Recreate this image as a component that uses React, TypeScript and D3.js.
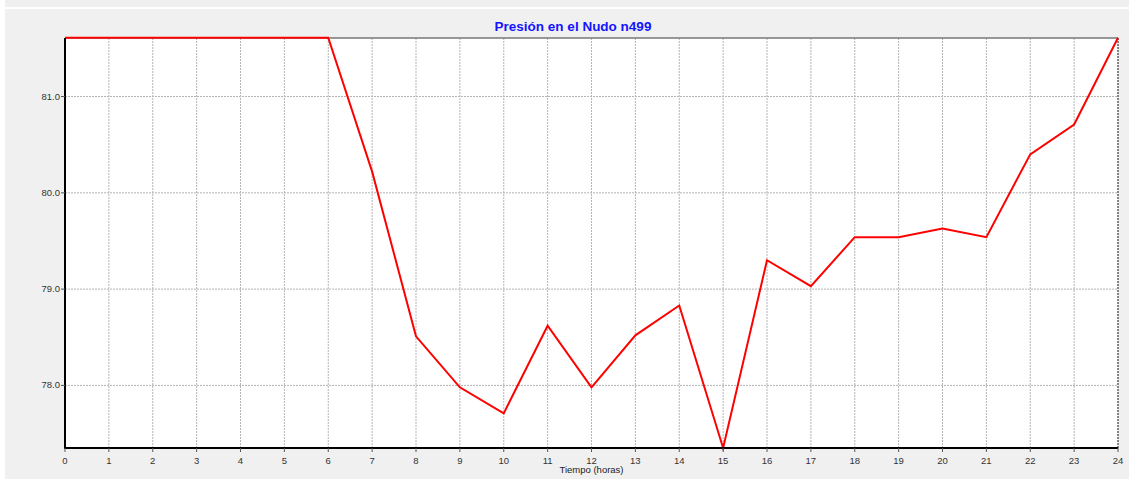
import React from "react";
import * as d3 from "d3";

const hours = [0,1,2,3,4,5,6,7,8,9,10,11,12,13,14,15,16,17,18,19,20,21,22,23,24];
const pressure = [81.61,81.61,81.61,81.61,81.61,81.61,81.61,80.22,78.51,77.98,77.71,78.62,77.98,78.52,78.83,77.35,79.30,79.03,79.54,79.54,79.63,79.54,80.40,80.71,81.61];
const yTicks = [78.0, 79.0, 80.0, 81.0];
const xTicks = hours;
const title = "Presión en el Nudo n499";
const xLabel = "Tiempo (horas)";

const W = 1129, H = 479;
const left = 65, right = 1118, top = 38, bottom = 448;

export default function App() {
  const x = d3.scaleLinear().domain([0, 24]).range([left, right]);
  const y = d3.scaleLinear().domain([77.35, 81.608]).range([bottom, top]);
  const line = d3.line<number>().x((_, i) => x(hours[i])).y(d => y(d));
  const font = "Arial, 'Liberation Sans', sans-serif";
  return (
    <svg width={W} height={H} style={{ position: "absolute", left: 0, top: 0, display: "block" }}>
      <rect x={0} y={0} width={W} height={H} fill="#ffffff" />
      <rect x={5} y={0} width={W - 5} height={7} fill="#efefef" />
      <rect x={5} y={9} width={W - 5} height={H - 9} fill="#f0f0f0" />
      <rect x={left} y={top} width={right - left} height={bottom - top} fill="#ffffff" />
      {xTicks.map(t => (
        <line key={"gx" + t} x1={x(t)} x2={x(t)} y1={top} y2={bottom} stroke="#b4b4b4" strokeWidth={1} strokeDasharray="2,1" />
      ))}
      {yTicks.map(t => (
        <line key={"gy" + t} x1={left} x2={right} y1={y(t)} y2={y(t)} stroke="#b4b4b4" strokeWidth={1} strokeDasharray="2,1" />
      ))}
      <line x1={left} x2={right} y1={top} y2={top} stroke="#777" strokeWidth={1.5} />
      <line x1={right} x2={right} y1={top} y2={bottom} stroke="#333" strokeWidth={1} strokeDasharray="2,1" />
      <path d={line(pressure) || ""} fill="none" stroke="#ff0000" strokeWidth={2} strokeLinejoin="miter" />
      <line x1={left} x2={left} y1={top} y2={bottom + 1} stroke="#000" strokeWidth={2} />
      <line x1={left - 1} x2={right} y1={bottom} y2={bottom} stroke="#000" strokeWidth={2} />
      {yTicks.map(t => (
        <g key={"ty" + t}>
          <line x1={left - 4} x2={left} y1={y(t)} y2={y(t)} stroke="#555" strokeWidth={1} />
          <text x={left - 5} y={y(t) + 3} textAnchor="end" fontSize={9.5} fill="#333" fontFamily={font}>{t.toFixed(1)}</text>
        </g>
      ))}
      {xTicks.map(t => (
        <g key={"tx" + t}>
          <line x1={x(t)} x2={x(t)} y1={bottom} y2={bottom + 4} stroke="#555" strokeWidth={1} />
          <text x={x(t)} y={463.5} textAnchor="middle" fontSize={9.5} fill="#333" fontFamily={font}>{t}</text>
        </g>
      ))}
      <text x={(left + right) / 2} y={473} textAnchor="middle" fontSize={9.5} fill="#222" fontFamily={font}>{xLabel}</text>
      <text x={573} y={31} textAnchor="middle" fontSize={13.5} fontWeight="bold" fill="#1414ff" fontFamily={font}>{title}</text>
    </svg>
  );
}
